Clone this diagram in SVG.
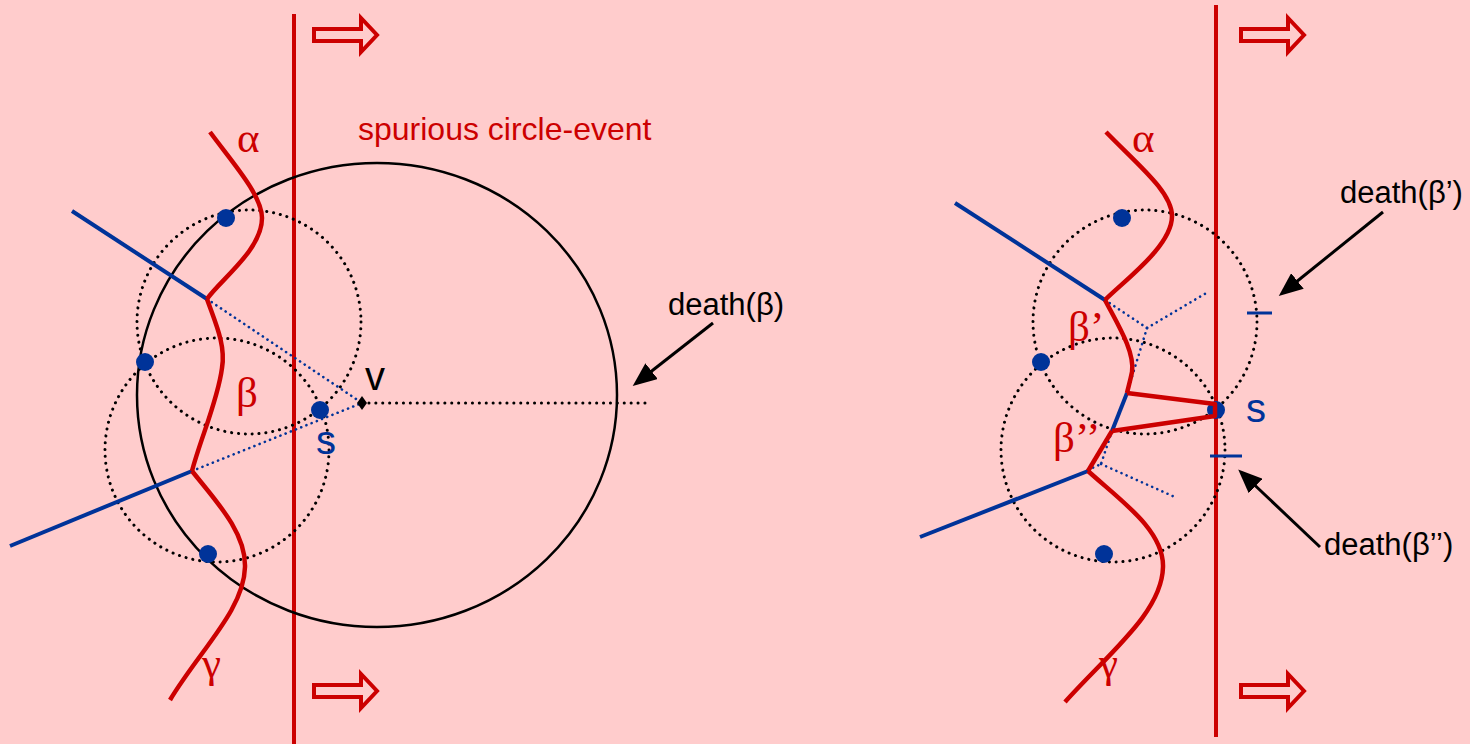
<svg xmlns="http://www.w3.org/2000/svg" width="1470" height="744" viewBox="0 0 1470 744">
<defs>
<style>
.sweep{stroke:#CC0000;stroke-width:4;fill:none}
.hollow{stroke:#CC0000;stroke-width:4;fill:none;stroke-linejoin:miter}
.beach{stroke:#CC0000;stroke-width:4.5;fill:none;stroke-linejoin:round}
.edge{stroke:#003399;stroke-width:4;fill:none}
.bdot{stroke:#003399;stroke-width:2.6;fill:none;stroke-dasharray:0.1 5.5;stroke-linecap:round}
.kdot{stroke:#000;stroke-width:3;fill:none;stroke-dasharray:0.1 6.8;stroke-linecap:round}
.site{fill:#003399}
.circ{stroke:#000;stroke-width:2.5;fill:none}
.greek{font-family:"Liberation Serif","DejaVu Serif",serif;font-size:43px;fill:#CC0000}
.lbl{font-family:"Liberation Sans",Arial,sans-serif;font-size:40px}
.death{font-family:"Liberation Sans",Arial,sans-serif;font-size:31px;fill:#000}
.ptr{stroke:#000;stroke-width:3;fill:none}
.tick{stroke:#003399;stroke-width:3}
</style>
<marker id="ah" markerUnits="userSpaceOnUse" viewBox="0 0 24 20" refX="16" refY="10" markerWidth="24" markerHeight="20" orient="auto">
<path d="M0,0 L24,10 L0,20 Z" fill="#000"/>
</marker>
</defs>
<rect x="0" y="0" width="1470" height="744" fill="#FFCCCC"/>

<g id="left-panel">
  <g id="sweep-left"><line class="sweep" x1="294" y1="14" x2="294" y2="744"/></g>
  <g id="arrow-left-top"><path class="hollow" d="M314,29 H361 V18 L377,35 L361,52 V41 H314 Z"/></g>
  <g id="arrow-left-bottom"><path class="hollow" d="M314,685 H361 V674 L377,691 L361,708 V697 H314 Z"/></g>
  <g id="circle-left-upper"><circle class="kdot" cx="249" cy="322" r="112"/></g>
  <g id="circle-left-lower"><circle class="kdot" cx="217" cy="450" r="112"/></g>
  <g id="spurious-circle"><ellipse class="circ" cx="377" cy="395" rx="240" ry="232"/></g>
  <g id="connectors-left">
    <line class="edge" x1="72" y1="211" x2="207" y2="299"/>
    <line class="edge" x1="10" y1="546" x2="192" y2="471"/>
    <line class="bdot" x1="207" y1="299" x2="362" y2="403"/>
    <line class="bdot" x1="192" y1="471" x2="362" y2="403"/>
    <line class="kdot" x1="362" y1="403" x2="645" y2="403"/>
    <line class="ptr" x1="713" y1="323" x2="639" y2="381" marker-end="url(#ah)"/>
  </g>
  <g id="beach-left">
    <path class="beach" d="M210,132 C232,162 262,195 262,218 C262,250 220,280 207,299"/>
    <path class="beach" d="M207,299 C215,322 226,345 222,368 C218,400 200,440 192,471"/>
    <path class="beach" d="M192,471 C215,500 246,532 245,567 C244,610 200,650 170,700"/>
  </g>
  <g id="sites-left">
    <circle class="site" cx="226" cy="218" r="9"/>
    <circle class="site" cx="145" cy="362" r="9"/>
    <circle class="site" cx="320" cy="410" r="9"/>
    <circle class="site" cx="208" cy="554" r="9"/>
  </g>
  <g id="vertex-v"><polygon points="362,396 367,403 362,410 357,403" fill="#000"/></g>
  <g id="labels-left">
    <text class="greek" x="237" y="152">α</text>
    <text class="greek" x="236" y="407">β</text>
    <text class="greek" x="202" y="677">γ</text>
    <text class="lbl" x="316" y="454" fill="#003399">s</text>
    <text class="lbl" x="365" y="390" fill="#000">v</text>
    <text class="lbl" x="358" y="140" fill="#CC0000" style="font-size:32px">spurious circle-event</text>
    <text class="death" x="668" y="315">death(β)</text>
  </g>
</g>

<g id="right-panel">
  <g id="sweep-right"><line class="sweep" x1="1216" y1="5" x2="1216" y2="737"/></g>
  <g id="arrow-right-top"><path class="hollow" d="M1241,29 H1288 V18 L1304,35 L1288,52 V41 H1241 Z"/></g>
  <g id="arrow-right-bottom"><path class="hollow" d="M1241,685 H1288 V674 L1304,691 L1288,708 V697 H1241 Z"/></g>
  <g id="circle-right-upper"><circle class="kdot" cx="1145" cy="322" r="112"/></g>
  <g id="circle-right-lower"><circle class="kdot" cx="1113" cy="450" r="112"/></g>
  <g id="connectors-right">
    <line class="edge" x1="955" y1="203" x2="1105" y2="300"/>
    <line class="edge" x1="920" y1="537" x2="1088" y2="471"/>
    <line class="edge" x1="1127" y1="393" x2="1112" y2="431"/>
    <line class="bdot" x1="1105" y1="300" x2="1147" y2="328"/>
    <line class="bdot" x1="1147" y1="328" x2="1208" y2="292"/>
    <line class="bdot" x1="1147" y1="328" x2="1127" y2="393"/>
    <line class="bdot" x1="1112" y1="431" x2="1101" y2="464"/>
    <line class="bdot" x1="1088" y1="470" x2="1101" y2="464"/>
    <line class="bdot" x1="1101" y1="464" x2="1177" y2="498"/>
    <line class="tick" x1="1247" y1="313" x2="1272" y2="313"/>
    <line class="tick" x1="1210" y1="456" x2="1242" y2="456"/>
    <line class="ptr" x1="1383" y1="212" x2="1285" y2="291" marker-end="url(#ah)"/>
    <line class="ptr" x1="1320" y1="547" x2="1244" y2="475" marker-end="url(#ah)"/>
  </g>
  <g id="sites-right">
    <circle class="site" cx="1122" cy="218" r="9"/>
    <circle class="site" cx="1041" cy="362" r="9"/>
    <circle class="site" cx="1216" cy="410" r="9"/>
    <circle class="site" cx="1104" cy="554" r="9"/>
  </g>
  <g id="beach-right">
    <path class="beach" d="M1106,132 C1138,165 1172,192 1172,216 C1172,246 1125,280 1105,300"/>
    <path class="beach" d="M1105,300 C1118,325 1135,352 1132,372 C1130,382 1128,388 1127,393"/>
    <path class="beach" d="M1127,393 L1215,404 L1215,416 L1112,431"/>
    <path class="beach" d="M1112,431 L1088,471"/>
    <path class="beach" d="M1088,471 C1120,500 1164,530 1163,567 C1162,612 1110,652 1065,702"/>
  </g>
  <g id="labels-right">
    <text class="greek" x="1132" y="152">α</text>
    <text class="greek" x="1068" y="341">β’</text>
    <text class="greek" x="1053" y="452">β’’</text>
    <text class="greek" x="1099" y="677">γ</text>
    <text class="lbl" x="1246" y="422" fill="#003399">s</text>
    <text class="death" x="1340" y="203">death(β’)</text>
    <text class="death" x="1324" y="555">death(β’’)</text>
  </g>
</g>
</svg>
